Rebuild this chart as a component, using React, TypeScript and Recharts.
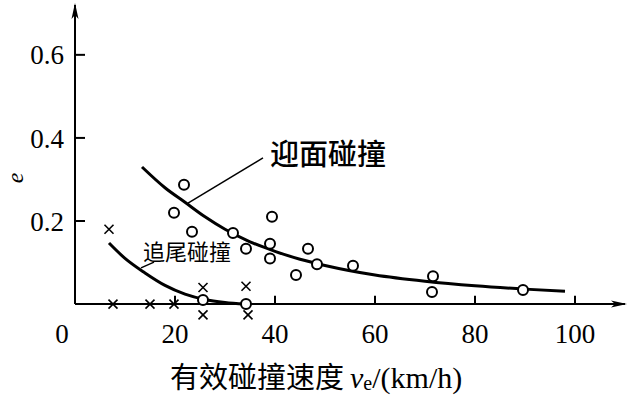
import {ComposedChart, Line, ReferenceLine, Scatter, XAxis, YAxis} from "recharts";

// 迎面碰撞 (head-on) measured points
const headOnV = [19.8, 21.8, 23.4, 25.6, 31.6, 34.2, 34.2, 39.4, 39, 39, 44.2, 46.6, 48.4, 55.6, 71.6, 71.4, 89.6];
const headOnE = [0.22, 0.287, 0.174, 0.01, 0.171, 0.133, 0.0, 0.21, 0.145, 0.11, 0.07, 0.133, 0.096, 0.092, 0.067, 0.029, 0.034];

// 追尾碰撞 (rear-end) measured points
const rearV = [6.8, 7.6, 15, 19.8, 25.6, 25.6, 34.2, 34.6];
const rearE = [0.18, 0, 0, 0, 0.04, -0.026, 0.043, -0.026];

// fitted curves
const headOnCurveV = [13.4, 18, 22, 26, 30, 35, 40, 45, 50, 60, 70, 80, 90, 98];
const headOnCurveE = [0.33, 0.28, 0.245, 0.21, 0.18, 0.15, 0.127, 0.108, 0.093, 0.07, 0.055, 0.044, 0.036, 0.031];
const rearCurveV = [6.8, 10, 14, 18, 22, 26, 30, 34];
const rearCurveE = [0.147, 0.11, 0.075, 0.045, 0.024, 0.011, 0.004, 0.0];

const xTicks = [0, 20, 40, 60, 80, 100];
const yTicks = [0.2, 0.4, 0.6];

const zip = (vs: number[], es: number[]) => vs.map((v, i) => ({v, e: es[i]}));
const headOnPts = zip(headOnV, headOnE);
const rearPts = zip(rearV, rearE);
const headOnCurve = zip(headOnCurveV, headOnCurveE);
const rearCurve = zip(rearCurveV, rearCurveE);

const serif = '"Liberation Serif", "DejaVu Serif", serif';
const cjk = '"Noto Sans CJK SC", sans-serif';

const XTick = (props: any) => {
    const {x, y, payload} = props;
    return (
        <text x={payload.value === 0 ? x - 13 : x} y={y + 14} textAnchor="middle"
              fontFamily={serif} fontSize={27} fill="#000">
            {payload.value}
        </text>
    );
};

const Ring = (props: any) => (
    <circle cx={props.cx} cy={props.cy} r={5} fill="#fff" stroke="#000" strokeWidth={2}/>
);

const Cross = (props: any) => {
    const {cx, cy} = props;
    const d = 4.5;
    return (
        <g stroke="#000" strokeWidth={1.6}>
            <line x1={cx - d} y1={cy - d} x2={cx + d} y2={cy + d}/>
            <line x1={cx - d} y1={cy + d} x2={cx + d} y2={cy - d}/>
        </g>
    );
};

export default function App() {
    return (
        <div style={{position: 'absolute', left: 0, top: 0, width: 628, height: 399, background: '#fff'}}>
            <ComposedChart width={628} height={399} margin={{top: 5, right: 3, left: 0, bottom: 30}}>
                <defs>
                    <marker id="arrow" viewBox="0 0 16 8" refX="14" refY="4" markerWidth="16" markerHeight="8"
                            markerUnits="userSpaceOnUse" orient="auto">
                        <path d="M0,0.5 L16,4 L0,7.5 L4,4 z" fill="#000"/>
                    </marker>
                </defs>
                <XAxis type="number" dataKey="v" domain={[0, 110]} ticks={xTicks} allowDataOverflow
                       axisLine={false} tickLine={false} tickSize={0} tickMargin={0} height={40} tick={<XTick/>}/>
                <YAxis type="number" dataKey="e" domain={[-0.06, 0.72]} ticks={yTicks} allowDataOverflow
                       axisLine={false} tickLine={false} tickMargin={5} width={75}
                       tick={{fontFamily: serif, fontSize: 27, fill: '#000'}}/>

                {/* axes drawn through the origin */}
                <ReferenceLine segment={[{x: 0, y: 0}, {x: 110, y: 0}]} stroke="#000" strokeWidth={2}
                               markerEnd="url(#arrow)" ifOverflow="visible"/>
                <ReferenceLine segment={[{x: 0, y: 0}, {x: 0, y: 0.72}]} stroke="#000" strokeWidth={2}
                               markerEnd="url(#arrow)" ifOverflow="visible"/>
                {xTicks.filter(t => t > 0).map(t => (
                    <ReferenceLine key={'xt' + t} segment={[{x: t, y: 0}, {x: t, y: 0.02}]} stroke="#000" strokeWidth={2}/>
                ))}
                {yTicks.map(t => (
                    <ReferenceLine key={'yt' + t} segment={[{x: 0, y: t}, {x: 2, y: t}]} stroke="#000" strokeWidth={2}/>
                ))}

                {/* leader lines for the labels */}
                <ReferenceLine segment={[{x: 22.6, y: 0.243}, {x: 37.6, y: 0.352}]} stroke="#000" strokeWidth={1.5}/>
                <ReferenceLine segment={[{x: 13.2, y: 0.087}, {x: 15.8, y: 0.101}]} stroke="#000" strokeWidth={1.5}/>

                <Line data={headOnCurve} dataKey="e" type="monotone" dot={false} stroke="#000" strokeWidth={3}
                      isAnimationActive={false}/>
                <Line data={rearCurve} dataKey="e" type="monotone" dot={false} stroke="#000" strokeWidth={3}
                      isAnimationActive={false}/>
                <Scatter data={headOnPts} dataKey="e" shape={<Ring/>} isAnimationActive={false}/>
                <Scatter data={rearPts} dataKey="e" shape={<Cross/>} isAnimationActive={false}/>

                <text x={270} y={165} fontFamily={cjk} fontWeight={500} fontSize={29} fill="#000">迎面碰撞</text>
                <text x={143} y={260} fontFamily={cjk} fontSize={22} fill="#000">追尾碰撞</text>
                <text x={0} y={0} transform="translate(23,178) rotate(-90)" textAnchor="middle"
                      fontFamily={serif} fontStyle="italic" fontSize={24} fill="#000">e</text>
                <text x={170} y={388} fontFamily={cjk} fontSize={29} fill="#000">有效碰撞速度</text>
                <text x={350} y={388} fill="#000">
                    <tspan fontFamily={serif} fontStyle="italic" fontSize={30}>v</tspan>
                    <tspan fontFamily={serif} fontSize={20} dy={2}>e</tspan>
                    <tspan fontFamily={serif} fontSize={30} dy={-2}>/(km/h)</tspan>
                </text>
            </ComposedChart>
        </div>
    );
}
